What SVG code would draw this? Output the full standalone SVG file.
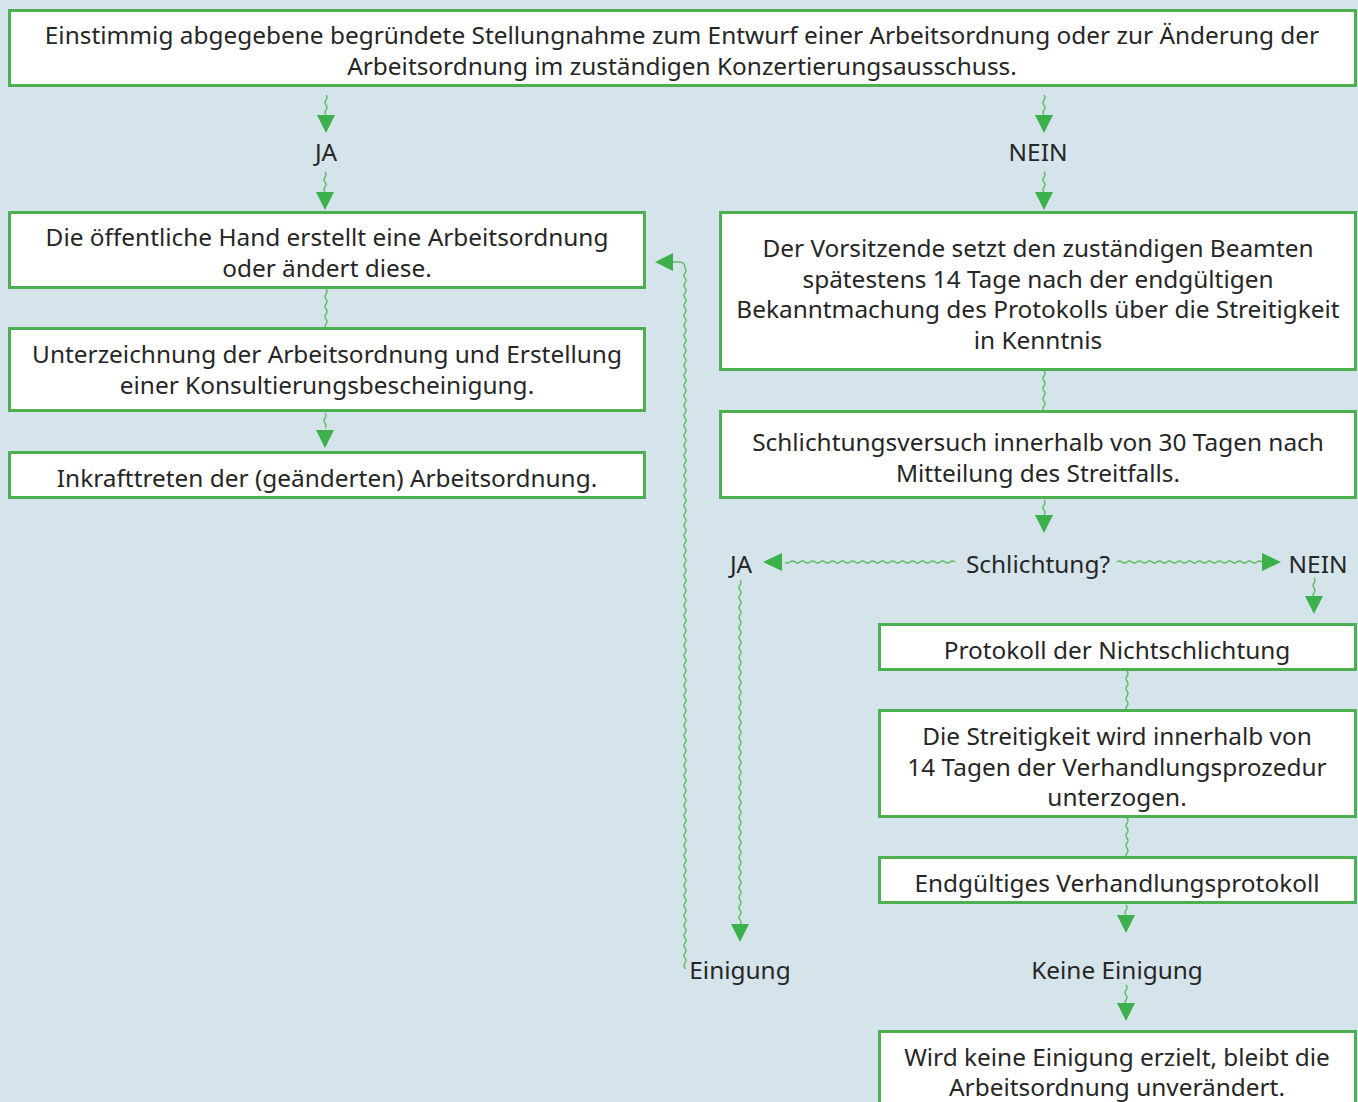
<svg xmlns="http://www.w3.org/2000/svg" width="1358" height="1102" viewBox="0 0 1358 1102">
<style>
.box{fill:#fff;stroke:#4caf50;stroke-width:3}
.t{font-family:"Noto Sans","Open Sans","DejaVu Sans",sans-serif;font-size:24.4px;fill:#262626;text-anchor:middle}
.w{fill:none;stroke:#5cbf62;stroke-width:1.4}
.ah{fill:#3cb04a}
</style>
<defs><clipPath id="fbclip"><rect x="600" y="240" width="120" height="729"/></clipPath></defs>
<rect width="1358" height="1102" fill="#d5e3ea"/>
<g id="connectors">
<path class="w" d="M326 95 q2 2.5 0 5 t0 5 t0 5 t0 5"/>
<polygon class="ah" points="317,115 335,115 326,133"/>
<path class="w" d="M325 172 q2 2.5 0 5 t0 5 t0 5 t0 5"/>
<polygon class="ah" points="316,192 334,192 325,210"/>
<path class="w" d="M1044 95 q2 2.5 0 5 t0 5 t0 5 t0 5"/>
<polygon class="ah" points="1035,115 1053,115 1044,133"/>
<path class="w" d="M1044 172 q2 2.5 0 5 t0 5 t0 5 t0 5"/>
<polygon class="ah" points="1035,192 1053,192 1044,210"/>
<path class="w" d="M326 289 q2 2.5 0 5 t0 5 t0 5 t0 5 t0 5 t0 5 t0 5 t0 5"/>
<path class="w" d="M325 413 q2 2.5 0 5 t0 5 t0 5"/>
<polygon class="ah" points="316,430 334,430 325,448"/>
<path class="w" d="M1044 371 q2 2.5 0 5 t0 5 t0 5 t0 5 t0 5 t0 5 t0 5 t0 5"/>
<path class="w" d="M1044 500 q2 2.5 0 5 t0 5 t0 5"/>
<polygon class="ah" points="1035,515 1053,515 1044,533"/>
<path class="w" d="M955 562 q-2.5 -2 -5 0 t-5 0 t-5 0 t-5 0 t-5 0 t-5 0 t-5 0 t-5 0 t-5 0 t-5 0 t-5 0 t-5 0 t-5 0 t-5 0 t-5 0 t-5 0 t-5 0 t-5 0 t-5 0 t-5 0 t-5 0 t-5 0 t-5 0 t-5 0 t-5 0 t-5 0 t-5 0 t-5 0 t-5 0 t-5 0 t-5 0 t-5 0 t-5 0 t-5 0"/>
<polygon class="ah" points="782,553 782,571 763,562"/>
<path class="w" d="M1117 562 q2.5 -2 5 0 t5 0 t5 0 t5 0 t5 0 t5 0 t5 0 t5 0 t5 0 t5 0 t5 0 t5 0 t5 0 t5 0 t5 0 t5 0 t5 0 t5 0 t5 0 t5 0 t5 0 t5 0 t5 0 t5 0 t5 0 t5 0 t5 0 t5 0 t5 0"/>
<polygon class="ah" points="1262,553 1262,571 1281,562"/>
<path class="w" d="M1314 578 q2 2.5 0 5 t0 5 t0 5 t0 5"/>
<polygon class="ah" points="1305,596 1323,596 1314,614"/>
<path class="w" d="M740 580 q2 2.5 0 5 t0 5 t0 5 t0 5 t0 5 t0 5 t0 5 t0 5 t0 5 t0 5 t0 5 t0 5 t0 5 t0 5 t0 5 t0 5 t0 5 t0 5 t0 5 t0 5 t0 5 t0 5 t0 5 t0 5 t0 5 t0 5 t0 5 t0 5 t0 5 t0 5 t0 5 t0 5 t0 5 t0 5 t0 5 t0 5 t0 5 t0 5 t0 5 t0 5 t0 5 t0 5 t0 5 t0 5 t0 5 t0 5 t0 5 t0 5 t0 5 t0 5 t0 5 t0 5 t0 5 t0 5 t0 5 t0 5 t0 5 t0 5 t0 5 t0 5 t0 5 t0 5 t0 5 t0 5 t0 5 t0 5 t0 5 t0 5 t0 5"/>
<polygon class="ah" points="731,924 749,924 740,942"/>
<path class="w" clip-path="url(#fbclip)" d="M673 262 L679 262 Q685 262 685 268 q2 2.5 0 5 t0 5 t0 5 t0 5 t0 5 t0 5 t0 5 t0 5 t0 5 t0 5 t0 5 t0 5 t0 5 t0 5 t0 5 t0 5 t0 5 t0 5 t0 5 t0 5 t0 5 t0 5 t0 5 t0 5 t0 5 t0 5 t0 5 t0 5 t0 5 t0 5 t0 5 t0 5 t0 5 t0 5 t0 5 t0 5 t0 5 t0 5 t0 5 t0 5 t0 5 t0 5 t0 5 t0 5 t0 5 t0 5 t0 5 t0 5 t0 5 t0 5 t0 5 t0 5 t0 5 t0 5 t0 5 t0 5 t0 5 t0 5 t0 5 t0 5 t0 5 t0 5 t0 5 t0 5 t0 5 t0 5 t0 5 t0 5 t0 5 t0 5 t0 5 t0 5 t0 5 t0 5 t0 5 t0 5 t0 5 t0 5 t0 5 t0 5 t0 5 t0 5 t0 5 t0 5 t0 5 t0 5 t0 5 t0 5 t0 5 t0 5 t0 5 t0 5 t0 5 t0 5 t0 5 t0 5 t0 5 t0 5 t0 5 t0 5 t0 5 t0 5 t0 5 t0 5 t0 5 t0 5 t0 5 t0 5 t0 5 t0 5 t0 5 t0 5 t0 5 t0 5 t0 5 t0 5 t0 5 t0 5 t0 5 t0 5 t0 5 t0 5 t0 5 t0 5 t0 5 t0 5 t0 5 t0 5 t0 5 t0 5 t0 5 t0 5 t0 5 t0 5 t0 5 t0 5 t0 5 t0 5 t0 5 t0 5 t0 5 t0 5 t0 5 t0 5 t0 5 t0 5 t0 5 t0 5 t0 5 t0 5 t0 5"/>
<polygon class="ah" points="673,253 673,271 655,262"/>
<path class="w" d="M1127 671 q2 2.5 0 5 t0 5 t0 5 t0 5 t0 5 t0 5 t0 5 t0 5"/>
<path class="w" d="M1127 818 q2 2.5 0 5 t0 5 t0 5 t0 5 t0 5 t0 5 t0 5 t0 5"/>
<path class="w" d="M1126 905 q2 2.5 0 5 t0 5"/>
<polygon class="ah" points="1117,915 1135,915 1126,933"/>
<path class="w" d="M1126 985 q2 2.5 0 5 t0 5 t0 5 t0 5"/>
<polygon class="ah" points="1117,1003 1135,1003 1126,1021"/>
</g>
<g id="nA"><rect class="box" x="9.5" y="10.5" width="1346" height="75"/>
<text class="t" x="682" y="44">Einstimmig abgegebene begründete Stellungnahme zum Entwurf einer Arbeitsordnung oder zur Änderung der</text>
<text class="t" x="682" y="75">Arbeitsordnung im zuständigen Konzertierungsausschuss.</text></g>
<g id="lJA"><text class="t" x="326" y="161">JA</text></g>
<g id="lNEIN"><text class="t" x="1038" y="161">NEIN</text></g>
<g id="nL1"><rect class="box" x="9.5" y="212.5" width="635" height="75"/>
<text class="t" x="327" y="246">Die öffentliche Hand erstellt eine Arbeitsordnung</text>
<text class="t" x="327" y="277">oder ändert diese.</text></g>
<g id="nL2"><rect class="box" x="9.5" y="328.5" width="635" height="82"/>
<text class="t" x="327" y="363">Unterzeichnung der Arbeitsordnung und Erstellung</text>
<text class="t" x="327" y="394">einer Konsultierungsbescheinigung.</text></g>
<g id="nL3"><rect class="box" x="9.5" y="452.5" width="635" height="45"/>
<text class="t" x="327" y="487">Inkrafttreten der (geänderten) Arbeitsordnung.</text></g>
<g id="nR1"><rect class="box" x="720.5" y="212.5" width="635" height="157"/>
<text class="t" x="1038" y="257">Der Vorsitzende setzt den zuständigen Beamten</text>
<text class="t" x="1038" y="288">spätestens 14 Tage nach der endgültigen</text>
<text class="t" x="1038" y="318">Bekanntmachung des Protokolls über die Streitigkeit</text>
<text class="t" x="1038" y="349">in Kenntnis</text></g>
<g id="nR2"><rect class="box" x="720.5" y="411.5" width="635" height="86"/>
<text class="t" x="1038" y="451">Schlichtungsversuch innerhalb von 30 Tagen nach</text>
<text class="t" x="1038" y="482">Mitteilung des Streitfalls.</text></g>
<g id="lSchl"><text class="t" x="1038" y="573">Schlichtung?</text></g>
<g id="lJA2"><text class="t" x="741" y="573">JA</text></g>
<g id="lNEIN2"><text class="t" x="1318" y="573">NEIN</text></g>
<g id="nR3"><rect class="box" x="879.5" y="624.5" width="476" height="45"/>
<text class="t" x="1117" y="659">Protokoll der Nichtschlichtung</text></g>
<g id="nR4"><rect class="box" x="879.5" y="710.5" width="476" height="106"/>
<text class="t" x="1117" y="745">Die Streitigkeit wird innerhalb von</text>
<text class="t" x="1117" y="776">14 Tagen der Verhandlungsprozedur</text>
<text class="t" x="1117" y="806">unterzogen.</text></g>
<g id="nR5"><rect class="box" x="879.5" y="857.5" width="476" height="45"/>
<text class="t" x="1117" y="892">Endgültiges Verhandlungsprotokoll</text></g>
<g id="lEin"><text class="t" x="740" y="979">Einigung</text></g>
<g id="lKein"><text class="t" x="1117" y="979">Keine Einigung</text></g>
<g id="nR6"><rect class="box" x="879.5" y="1031.5" width="476" height="80"/>
<text class="t" x="1117" y="1066">Wird keine Einigung erzielt, bleibt die</text>
<text class="t" x="1117" y="1096">Arbeitsordnung unverändert.</text></g>
</svg>
